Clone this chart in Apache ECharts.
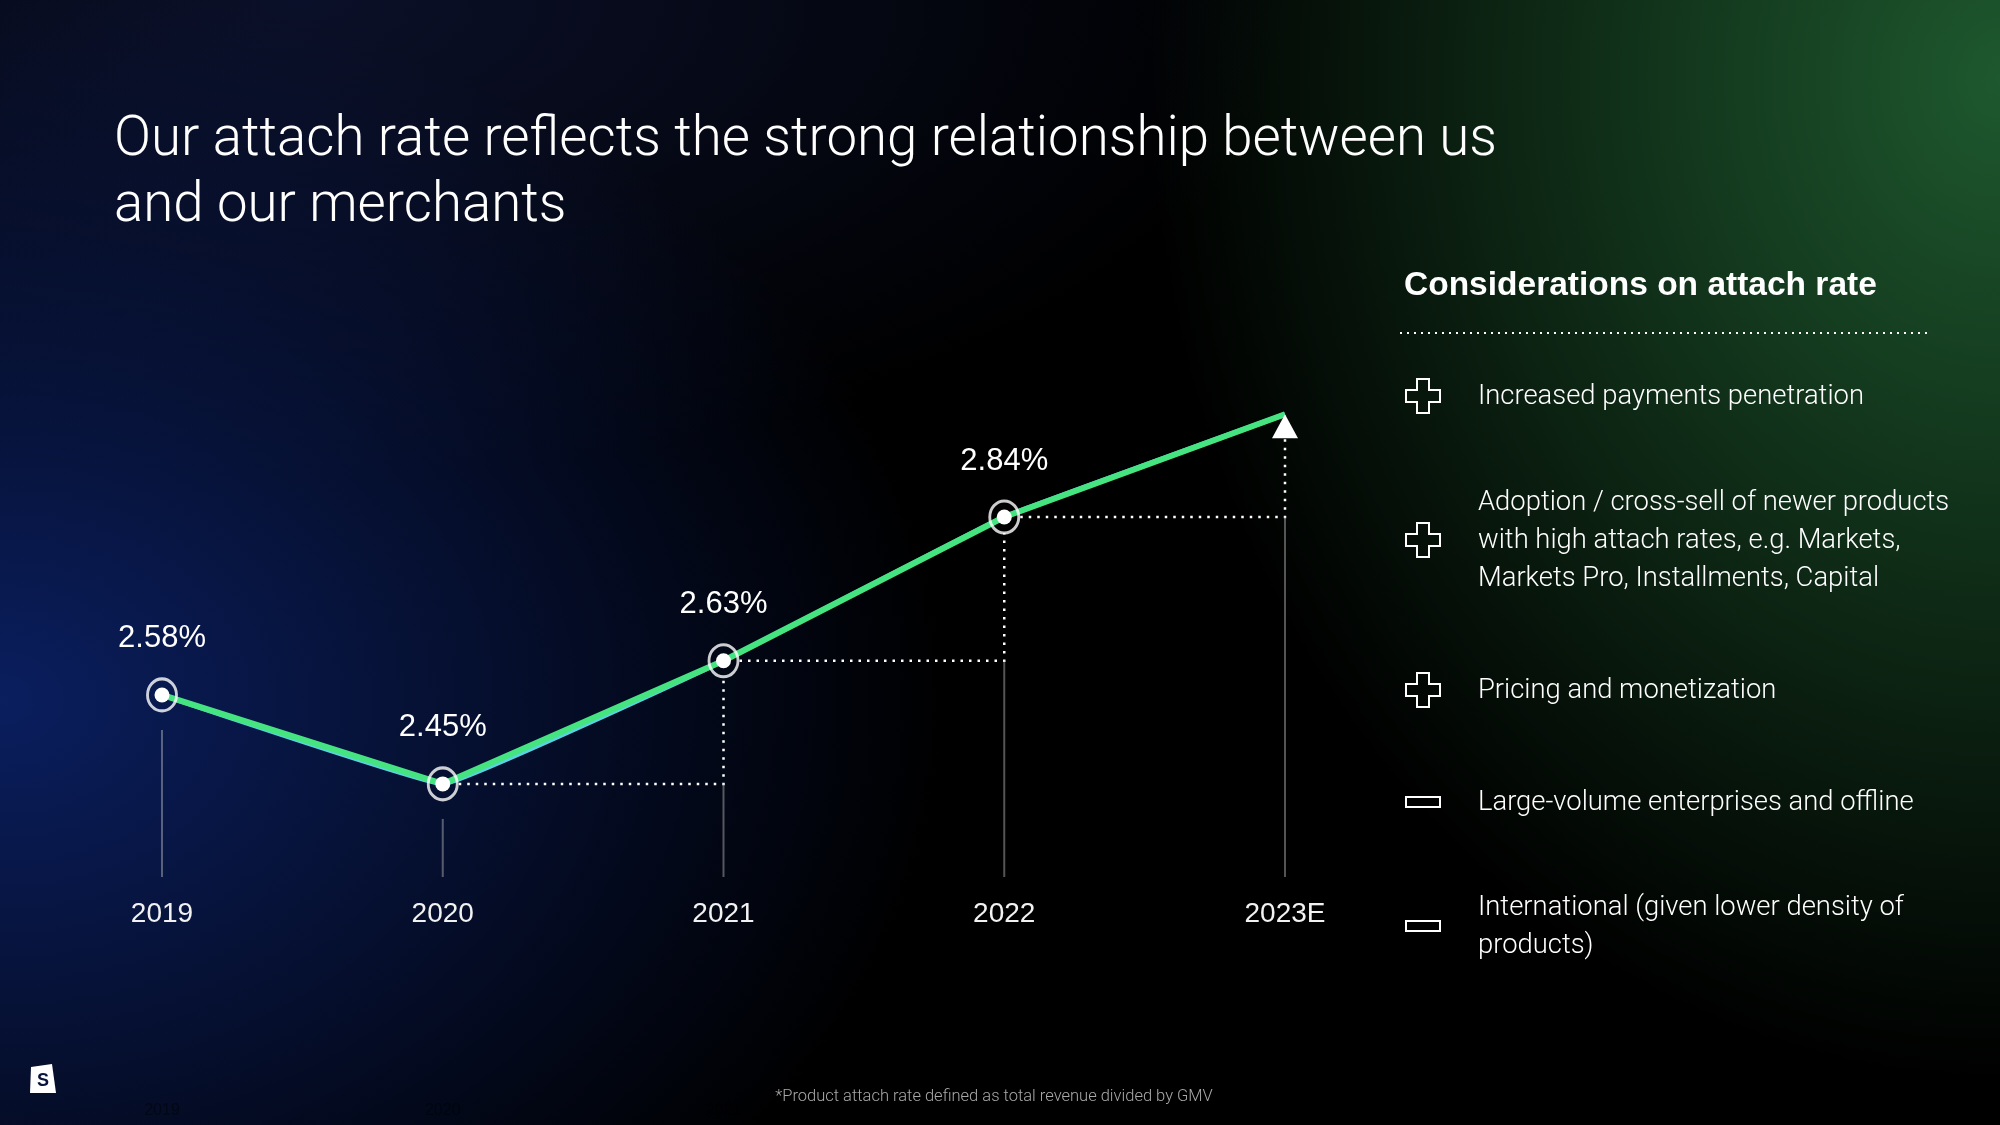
<!DOCTYPE html>
<html>
<head>
<meta charset="utf-8">
<title>Attach rate</title>
<script src="https://cdn.jsdelivr.net/npm/echarts@6/dist/echarts.min.js"></script>
<style>
  html, body { margin: 0; padding: 0; }
  body {
    width: 2000px;
    height: 1125px;
    overflow: hidden;
    background:
      radial-gradient(ellipse 950px 720px at 0px 700px, rgba(11, 32, 100, 0.95), rgba(11, 32, 100, 0) 100%),
      radial-gradient(ellipse 850px 1000px at 2000px 80px, rgba(30, 88, 46, 1), rgba(30, 88, 46, 0) 100%),
      radial-gradient(ellipse 1000px 480px at 300px 0px, rgba(12, 18, 46, 0.9), rgba(12, 18, 46, 0) 100%),
      #000;
  }
  #chart { width: 2000px; height: 1125px; }
</style>
</head>
<body>
<div id="chart"></div>
<script>
// 数据
var years = ["2019", "2020", "2021", "2022", "2023E"];
var attachRate = [2.58, 2.45, 2.63, 2.84, 2.99];
var rateLabels = ["2.58%", "2.45%", "2.63%", "2.84%", ""];

var panelTitle = "Considerations on attach rate";
var considerations = [
  "Increased payments penetration",
  "Adoption / cross-sell of newer products\nwith high attach rates, e.g. Markets,\nMarkets Pro, Installments, Capital",
  "Pricing and monetization",
  "Large-volume enterprises and offline",
  "International (given lower density of\nproducts)"
];
var considerationSign = ["plus", "plus", "plus", "minus", "minus"];
var footnote = "*Product attach rate defined as total revenue divided by GMV";

// 右侧列表的纵向位置
var itemY = [397, 541, 691, 803, 927];

var lightFont = "Roboto";
var numFont = "Liberation Sans";

let myChart = echarts.init(document.getElementById("chart"));

// 虚线阶梯 + 灰色竖线
function renderGuides(params, api) {
  var i = params.dataIndex;
  var cs = params.coordSys;
  var bottom = cs.y + cs.height;
  var p = api.coord([i, attachRate[i]]);
  var children = [];
  var top;
  if (i > 0 && attachRate[i - 1] < attachRate[i]) {
    top = api.coord([i, attachRate[i - 1]])[1];
  } else {
    top = p[1] + 35;
  }
  children.push({
    type: "line",
    shape: { x1: p[0], y1: top, x2: p[0], y2: bottom },
    style: { stroke: "rgba(200,200,200,0.42)", lineWidth: 2 }
  });
  if (i < attachRate.length - 1 && attachRate[i + 1] > attachRate[i]) {
    var q = api.coord([i + 1, attachRate[i + 1]]);
    var qEnd = i + 1 === attachRate.length - 1 ? q[1] + 24 : q[1] + 16;
    children.push({
      type: "polyline",
      shape: { points: [[p[0] + 16, p[1]], [q[0], p[1]], [q[0], qEnd]] },
      style: { stroke: "#fff", lineWidth: 2.5, lineDash: [2.5, 6], fill: null }
    });
  }
  return { type: "group", children: children };
}

// 加号 / 减号图标
function signIcon(kind, cx, cy) {
  if (kind === "minus") {
    return {
      type: "rect",
      shape: { x: cx - 17, y: cy - 5, width: 34, height: 10 },
      style: { fill: null, stroke: "#fff", lineWidth: 2 }
    };
  }
  var a = 17, b = 6;
  return {
    type: "polygon",
    shape: {
      points: [
        [cx - b, cy - a], [cx + b, cy - a], [cx + b, cy - b], [cx + a, cy - b],
        [cx + a, cy + b], [cx + b, cy + b], [cx + b, cy + a], [cx - b, cy + a],
        [cx - b, cy + b], [cx - a, cy + b], [cx - a, cy - b], [cx - b, cy - b]
      ]
    },
    style: { fill: null, stroke: "#fff", lineWidth: 2 }
  };
}

var graphics = [
  {
    type: "text",
    style: {
      text: panelTitle, x: 1404, y: 286,
      font: "bold 33.5px 'Liberation Sans'", fill: "#fff", verticalAlign: "middle"
    }
  },
  {
    type: "line",
    shape: { x1: 1400, y1: 333, x2: 1930, y2: 333 },
    style: { stroke: "#fff", lineWidth: 2, lineDash: [2, 5] }
  },
  {
    type: "text",
    style: {
      text: footnote, x: 994, y: 1097, align: "center",
      font: "300 16.5px " + lightFont, fill: "#a8a8a8", verticalAlign: "middle"
    }
  },
  // logo
  {
    type: "polygon",
    shape: { points: [[31, 1067], [52, 1064], [56, 1093], [30, 1093]] },
    style: { fill: "#fff" }
  },
  {
    type: "text",
    style: {
      text: "S", x: 43, y: 1081, align: "center", verticalAlign: "middle",
      font: "bold 18px 'Liberation Sans'", fill: "#08143c"
    }
  }
];
considerations.forEach(function (t, k) {
  graphics.push(signIcon(considerationSign[k], 1423, itemY[k] - 1));
  graphics.push({
    type: "text",
    style: {
      text: t, x: 1478, y: itemY[k], lineHeight: 38,
      font: "300 27.4px " + lightFont, fill: "#fff", verticalAlign: "middle"
    }
  });
});

var option = {
  backgroundColor: "transparent",
  animation: false,
  title: {
    text: "Our attach rate reflects the strong relationship between us\nand our merchants",
    left: 109,
    top: 103,
    textStyle: {
      color: "#fff",
      fontFamily: lightFont,
      fontWeight: 300,
      fontSize: 54.6,
      lineHeight: 66
    }
  },
  grid: { left: 162, right: 715, top: 339, bottom: 248 },
  xAxis: [
    {
      type: "category",
      data: years,
      boundaryGap: false,
      axisLine: { show: false },
      axisTick: { show: false },
      axisLabel: { color: "#f2f2f2", fontSize: 28, fontFamily: numFont, margin: 23 }
    },
    {
      type: "category",
      data: years,
      boundaryGap: false,
      position: "bottom",
      axisLine: { show: false },
      axisTick: { show: false },
      axisLabel: { color: "rgba(0,0,0,0.4)", fontSize: 16, fontFamily: numFont, margin: 226 }
    }
  ],
  yAxis: {
    type: "value",
    min: 2.314,
    max: 3.1,
    show: false,
    splitLine: { show: false }
  },
  graphic: graphics,
  series: [
    {
      type: "custom",
      renderItem: renderGuides,
      data: attachRate.map(function (v, i) { return [i, v]; }),
      clip: false,
      z: 1
    },
    {
      name: "cyan",
      type: "line",
      data: attachRate,
      showSymbol: false,
      smooth: 0.06,
      lineStyle: { color: "#58d3e3", width: 5 },
      z: 2
    },
    {
      name: "green",
      type: "line",
      data: attachRate,
      showSymbol: false,
      lineStyle: { color: "#46e381", width: 6 },
      z: 3
    },
    {
      name: "ring",
      type: "scatter",
      data: attachRate.slice(0, 4),
      symbol: "circle",
      symbolSize: [29, 32],
      itemStyle: { color: "rgba(0,0,0,0)", borderColor: "#fff", borderWidth: 3 },
      z: 4
    },
    {
      name: "dot",
      type: "scatter",
      data: attachRate.map(function (v, i) {
        var last = i === attachRate.length - 1;
        return {
          value: v,
          symbol: last ? "triangle" : "circle",
          symbolSize: last ? [26, 24] : 15,
          symbolOffset: last ? [0, 12] : [0, 0]
        };
      }),
      itemStyle: { color: "#fff", opacity: 1 },
      label: {
        show: true,
        position: "top",
        distance: 33,
        color: "#fff",
        fontSize: 31,
        fontFamily: numFont,
        formatter: function (p) { return rateLabels[p.dataIndex]; }
      },
      z: 5
    }
  ]
};

window.onresize = myChart.resize;
myChart.setOption(option);
</script>
</body>
</html>
